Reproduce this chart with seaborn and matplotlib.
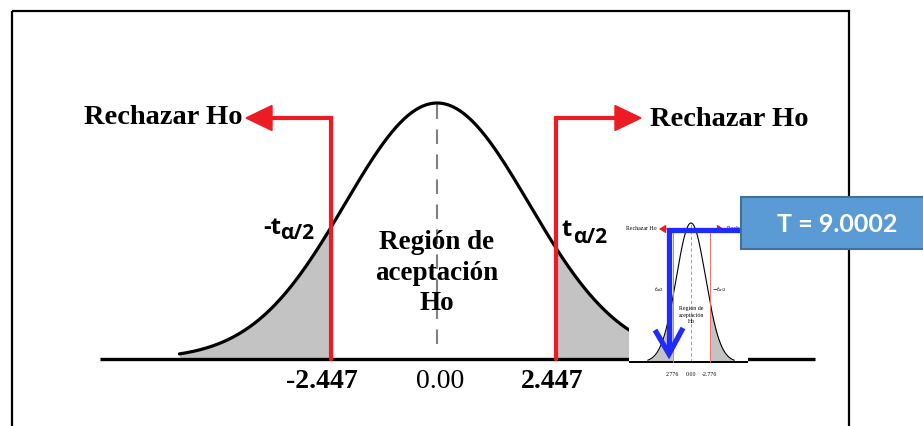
import numpy as np
import pandas as pd
import seaborn as sns
import matplotlib
matplotlib.use("Agg")
import matplotlib.pyplot as plt
from matplotlib.patches import Rectangle, Polygon

# datos de la prueba t (dos colas)
crit_value = 2.447
tick_values = [-2.447, 0.00, 2.447]
tick_labels = ["-2.447", "0.00", "2.447"]
tick_bold = [True, False, True]
curve_center = -0.14   # la campana del dibujo esta algo corrida a la izquierda
curve_sd = 2.0         # ancho de la campana
curve_lim = 5.6

# grafico chico pegado (espejado) y estadistico
inset_crit = 2.776
inset_ticks = [-2.776, 0.00, 2.776]
inset_tick_labels = ["2.776", "0.00", "-2.776"]
inset_sd = 2.2
inset_lim = 6.5
t_stat = 9.0002

RED = "#ed1c24"
GRAY = "#c3c3c3"
BLUE = "#1f2bff"

sns.set_style("white")
plt.rcParams["font.family"] = ["Liberation Serif", "DejaVu Serif"]
plt.rcParams["text.color"] = "black"

W, H = 923, 426
fig = plt.figure(figsize=(W / 100, H / 100), dpi=100)

# ---- grafico principal (coordenadas de datos) ----
ax = fig.add_axes([0, 0, 1, 1], zorder=1)
CX, BASE = 443.5, 359
PXX = 46.0
peak = 1 / (curve_sd * np.sqrt(2 * np.pi))
PXY = 256 / peak


def dx(px):
    return (px - CX) / PXX


def dy(px):
    return (BASE - px) / PXY


xs = np.linspace(curve_center - curve_lim, curve_center + curve_lim, 500)
df = pd.DataFrame({"t": xs,
                   "dens": np.exp(-0.5 * ((xs - curve_center) / curve_sd) ** 2) * peak})

left = df[df.t <= -crit_value]
right = df[df.t >= crit_value]
ax.fill_between(left.t, 0, left.dens, color=GRAY, lw=0, zorder=1)
ax.fill_between(right.t, 0, right.dens, color=GRAY, lw=0, zorder=1)
sns.lineplot(data=df, x="t", y="dens", ax=ax, color="black", lw=2.3, zorder=3)

ax.plot([curve_center, curve_center], [dy(344), dy(103)], color="#808080", lw=1.5,
        dashes=(7, 5), zorder=2)
ax.plot([dx(100), dx(815)], [0, 0], color="black", lw=2.4, zorder=4, solid_capstyle="butt")

# flechas rojas de rechazo
arm = dy(118)
hh = 12.5 / PXY
ax.plot([-crit_value, -crit_value, dx(270)], [0, arm, arm], color=RED, lw=3, zorder=5,
        solid_joinstyle="miter")
ax.add_patch(Polygon([(dx(246), arm), (dx(272), arm + hh), (dx(272), arm - hh)],
                     closed=True, color=RED, zorder=5))
ax.plot([crit_value, crit_value, dx(618)], [0, arm, arm], color=RED, lw=3, zorder=5,
        solid_joinstyle="miter")
ax.add_patch(Polygon([(dx(641), arm), (dx(615), arm + hh), (dx(615), arm - hh)],
                     closed=True, color=RED, zorder=5))

txt = dict(fontsize=20.5, fontweight="bold", color="black")
ax.text(dx(242), dy(118), "Rechazar Ho", ha="right", va="center", **txt)
ax.text(dx(650), dy(119), "Rechazar Ho", ha="left", va="center", **txt)
ax.text(curve_center, dy(273), "Región de\naceptación\nHo", ha="center", va="center",
        multialignment="center", linespacing=1.28, fontsize=19.5, fontweight="bold",
        color="black")

sans = ["Open Sans", "DejaVu Sans"]
ax.text(dx(281), dy(234), "-t", ha="right", va="baseline", fontsize=17,
        fontweight="bold", family=sans, color="black")
ax.text(dx(280), dy(239), "α/2", ha="left", va="baseline", fontsize=15,
        fontweight="bold", family=sans, color="black")
ax.text(dx(562), dy(236), "t", ha="left", va="baseline", fontsize=17,
        fontweight="bold", family=sans, color="black")
ax.text(dx(573), dy(243), "α/2", ha="left", va="baseline", fontsize=15,
        fontweight="bold", family=sans, color="black")

for v, lab, b in zip(tick_values, tick_labels, tick_bold):
    ax.text(v - (0.2 if b and v < 0 else 0.08), dy(382), lab, ha="center", va="center",
            fontsize=20, fontweight="bold" if b else "normal", color="black")

ax.set_xlim(dx(0), dx(W))
ax.set_ylim(dy(H), dy(0))
ax.set_axis_off()

# ---- grafico chico pegado ----
IL, IR, IT, IB = 629, 748, 215, 385
ICX, IBASE = 691, 362
axi = fig.add_axes([IL / W, (H - IB) / H, (IR - IL) / W, (IB - IT) / H], zorder=5)
axi.set_facecolor("white")
IPXX = 18.5 / inset_crit
ipeak = 1 / (inset_sd * np.sqrt(2 * np.pi))
IPXY = 139 / ipeak


def ix(px):
    return (px - ICX) / IPXX


def iy(px):
    return (IBASE - px) / IPXY


xi = np.linspace(-inset_lim, inset_lim, 300)
dfi = pd.DataFrame({"t": xi, "dens": np.exp(-0.5 * (xi / inset_sd) ** 2) * ipeak})
li = dfi[dfi.t <= -inset_crit]
ri = dfi[dfi.t >= inset_crit]
axi.fill_between(li.t, 0, li.dens, color=GRAY, lw=0)
axi.fill_between(ri.t, 0, ri.dens, color=GRAY, lw=0)
sns.lineplot(data=dfi, x="t", y="dens", ax=axi, color="black", lw=0.8)
axi.plot([0, 0], [0, iy(222)], color="#909090", lw=0.6, dashes=(4, 3))
axi.plot([ix(IL), ix(IR)], [0, 0], color="black", lw=1.4)
iarm = iy(229)
for s in (-1, 1):
    axi.plot([s * inset_crit, s * inset_crit], [0, iarm], color="#f07070", lw=0.7)
axi.annotate("", xy=(ix(659), iarm), xytext=(-inset_crit, iarm),
             arrowprops=dict(arrowstyle="-|>,head_length=0.4,head_width=0.25",
                             color=RED, lw=0.8, shrinkA=0, shrinkB=0))
axi.annotate("", xy=(ix(724), iarm), xytext=(inset_crit, iarm),
             arrowprops=dict(arrowstyle="-|>,head_length=0.4,head_width=0.25",
                             color=RED, lw=0.8, shrinkA=0, shrinkB=0))
axi.text(ix(657), iarm, "Rechazar Ho", ha="right", va="center", fontsize=4.2)
axi.text(ix(727), iarm, "Rechazar Ho", ha="left", va="center", fontsize=4.2)
axi.text(0, iy(315), "Región de\naceptación\nHo", ha="center", va="center",
         fontsize=4.2, linespacing=1.3)
axi.text(ix(664), iy(290), r"$t_{\alpha/2}$", ha="right", va="center", fontsize=4)
axi.text(ix(712), iy(290), r"$-t_{\alpha/2}$", ha="left", va="center", fontsize=4)
for v, lab in zip(inset_ticks, inset_tick_labels):
    axi.text(v, iy(375), lab, ha="center", va="center", fontsize=4.2)
axi.set_xlim(ix(IL), ix(IR))
axi.set_ylim(iy(IB), iy(IT))
axi.set_xticks([])
axi.set_yticks([])
axi.set_xlabel("")
axi.set_ylabel("")
for sp in axi.spines.values():
    sp.set_visible(False)

# ---- marco, flecha azul y cuadro del estadistico (pixeles) ----
ov = fig.add_axes([0, 0, 1, 1], zorder=10)
ov.patch.set_alpha(0)
ov.set_xlim(0, W)
ov.set_ylim(H, 0)
ov.set_axis_off()
ov.add_patch(Rectangle((12, 11), 837, 440, fill=False, ec="black", lw=1.6, zorder=1))
ov.plot([742, 669, 669], [230, 230, 350], color=BLUE, lw=3.8, zorder=3,
        solid_joinstyle="miter")
ov.plot([655, 669, 683], [330, 354, 328], color=BLUE, lw=3.8, zorder=3,
        solid_joinstyle="miter", solid_capstyle="butt")
ov.add_patch(Rectangle((741, 197), 200, 52, fc="#5b9bd5", ec="#41719c", lw=1.5, zorder=4))
ov.text(837, 224, f"T = {t_stat:.4f}", ha="center", va="center", color="white",
        fontsize=18, fontweight="bold", family=["Lato", "DejaVu Sans"], zorder=5)

fig.savefig("out.png", dpi=100)
